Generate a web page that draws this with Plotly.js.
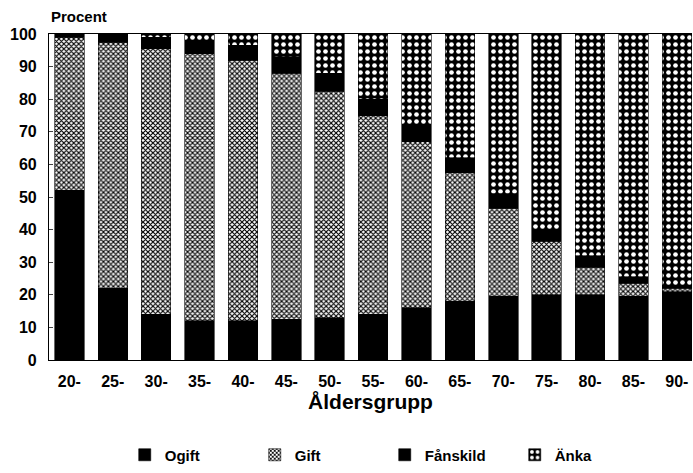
<!DOCTYPE html>
<html><head><meta charset="utf-8">
<script src="https://cdn.plot.ly/plotly-3.0.1.min.js"></script>
<style>html,body{margin:0;padding:0;background:#fff}#chart{width:693px;height:473px}</style>
</head><body><div id="chart"></div>
<script>
const categories = ["20-","25-","30-","35-","40-","45-","50-","55-","60-","65-","70-","75-","80-","85-","90-"];
const ogift    = [52, 22, 14, 12, 12, 12.5, 13, 14, 16, 18, 19.5, 20, 20, 19.5, 21];
const gift     = [47, 75.5, 81.5, 82, 80, 75.5, 69.5, 61, 51, 39.5, 27, 16.5, 8.5, 4, 1];
const franskild= [1, 2.5, 3.5, 3.5, 4.5, 5, 5.5, 5, 5, 4.5, 4.5, 3.5, 3.5, 2, 0.5];
const anka     = [0, 0, 1, 2.5, 3.5, 7, 12, 20, 28, 38, 49, 60, 68, 74.5, 77.5];
const names = ["Ogift","Gift","Fånskild","Änka"];

const F = "Liberation Sans, Arial, sans-serif";
const line = {color:"#000", width:0.6};
const traces = [
  {type:"bar", name:names[0], x:categories, y:ogift, marker:{color:"#000", line}},
  {type:"bar", name:names[1], x:categories, y:gift, marker:{color:"#fff", line,
     pattern:{shape:"x", fgcolor:"#000", bgcolor:"#fff", size:3.5, solidity:0.55}}},
  {type:"bar", name:names[2], x:categories, y:franskild, marker:{color:"#000", line}},
  {type:"bar", name:names[3], x:categories, y:anka, marker:{color:"#000", line,
     pattern:{shape:".", fgcolor:"#fff", bgcolor:"#000", size:7, solidity:0.35}}}
];
const layout = {
  width:693, height:473, barmode:"stack", bargap:0.32,
  margin:{l:49, r:1, t:34, b:113, autoexpand:false},
  paper_bgcolor:"#fff", plot_bgcolor:"#fff",
  font:{family:F, color:"#000", size:15, weight:"bold"},
  showlegend:true,
  legend:{orientation:"h", xref:"container", yref:"container", x:0.18, xanchor:"left", y:0.038, yanchor:"middle",
          entrywidth:85, traceorder:"normal", font:{size:15, weight:"bold"}},
  xaxis:{type:"category", range:[-0.47, 14.35], showline:true, mirror:true, linecolor:"#000", linewidth:1.2,
         ticks:"", ticklabelstandoff:7, automargin:false, tickfont:{size:16, weight:"bold"},
         title:{text:"Åldersgrupp", font:{size:21, weight:"bold"}, standoff:4}},
  yaxis:{range:[0,100], dtick:10, showline:true, linecolor:"#000", linewidth:1.2, showgrid:false, automargin:false,
         zeroline:false, ticks:"inside", ticklen:4, ticklabelstandoff:8, tickfont:{size:16, weight:"bold"}},
  annotations:[{text:"Procent", xref:"paper", yref:"paper", x:0, y:1.02, xanchor:"left", yanchor:"bottom",
                showarrow:false, font:{size:15, weight:"bold"}}]
};
Plotly.newPlot("chart", traces, layout, {displayModeBar:false});
</script></body></html>
